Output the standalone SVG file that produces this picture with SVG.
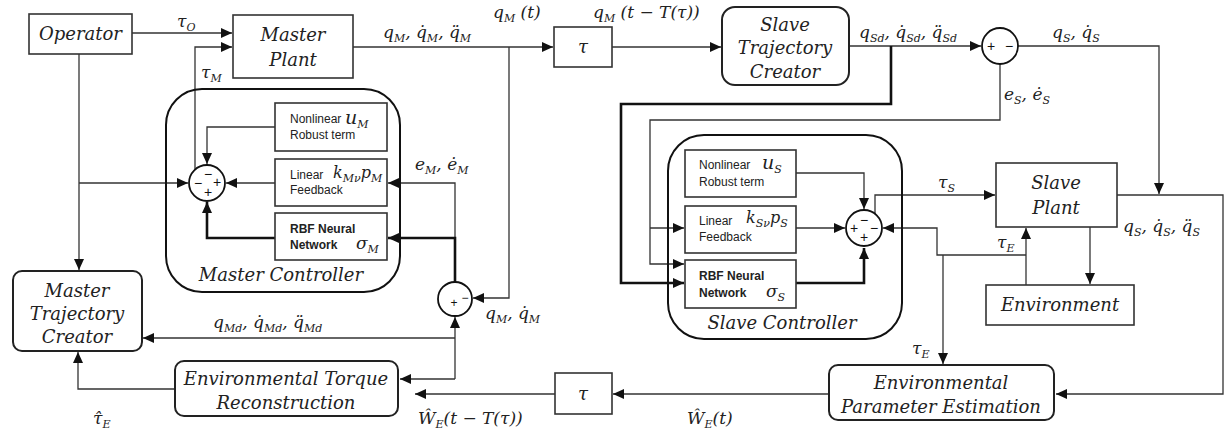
<svg xmlns="http://www.w3.org/2000/svg" width="1225" height="436" viewBox="0 0 1225 436">
<defs>
<marker id="a" markerUnits="userSpaceOnUse" markerWidth="11" markerHeight="10" refX="11" refY="5" orient="auto"><path d="M0,0 L11,5 L0,10 z" fill="#111"/></marker>
</defs>
<style>
.bx{fill:#fff;stroke:#333;stroke-width:1.6}
.ctl{fill:none;stroke:#111;stroke-width:2}
.rb{fill:#fff;stroke:#222;stroke-width:2}
.c{fill:none;stroke:#333;stroke-width:1.3}
.th{fill:none;stroke:#111;stroke-width:2.6}
.circ{fill:#fff;stroke:#111;stroke-width:1.8}
text{fill:#222}
.t{font-family:"DejaVu Serif","Liberation Serif",serif;font-style:italic;font-size:18px;text-anchor:middle}
.m{font-family:"DejaVu Serif","Liberation Serif",serif;font-style:italic;font-size:17px}
.s{font-size:11px}
.sf{font-family:"Liberation Sans",Arial,sans-serif;font-size:12px}
.b{font-weight:bold}
.sg{font-family:"Liberation Sans",Arial,sans-serif;font-size:14px;text-anchor:middle;fill:#111}
</style>
<g id="connectors">
<path class="c" d="M132,33 H232" marker-end="url(#a)"/>
<path class="c" d="M195,170 V47 H232" marker-end="url(#a)"/>
<path class="c" d="M79,54 V270" marker-end="url(#a)"/>
<path class="c" d="M79,183 H188" marker-end="url(#a)"/>
<path class="c" d="M275,127 H207 V164" marker-end="url(#a)"/>
<path class="c" d="M275,183 H226" marker-end="url(#a)"/>
<path class="th" d="M275,238 H207 V202" marker-end="url(#a)"/>
<path class="c" d="M455,238 V183 H388" marker-end="url(#a)"/>
<path class="th" d="M455,282 V238 H388" marker-end="url(#a)"/>
<path class="c" d="M353,47 H553" marker-end="url(#a)"/>
<path class="c" d="M612,47 H721" marker-end="url(#a)"/>
<path class="c" d="M509,47 V298 H473" marker-end="url(#a)"/>
<path class="c" d="M455,338 H143" marker-end="url(#a)"/>
<path class="c" d="M455,379 V317" marker-end="url(#a)"/>
<path class="c" d="M455,379 H400" marker-end="url(#a)"/>
<path class="c" d="M555,394 H415" marker-end="url(#a)"/>
<path class="c" d="M829,394 H613" marker-end="url(#a)"/>
<path class="c" d="M1117,195 H1223 V394 H1056" marker-end="url(#a)"/>
<path class="c" d="M849,46 H981" marker-end="url(#a)"/>
<path class="th" d="M891,46 V104 H621 V283 H684" marker-end="url(#a)"/>
<path class="c" d="M1000,64 V120 H650 V264 H684" marker-end="url(#a)"/>
<path class="c" d="M650,228 H684" marker-end="url(#a)"/>
<path class="c" d="M1018,46 H1159 V194" marker-end="url(#a)"/>
<path class="c" d="M796,173 H864 V209" marker-end="url(#a)"/>
<path class="c" d="M796,228 H845" marker-end="url(#a)"/>
<path class="th" d="M796,283 H864 V248" marker-end="url(#a)"/>
<path class="c" d="M875,214 V195 H995" marker-end="url(#a)"/>
<path class="c" d="M1026,285 V228" marker-end="url(#a)"/>
<path class="c" d="M1026,255 H937 V228 H883" marker-end="url(#a)"/>
<path class="c" d="M943,255 V364" marker-end="url(#a)"/>
<path class="c" d="M1090,227 V284" marker-end="url(#a)"/>
<path class="c" d="M175,389 H78 V352" marker-end="url(#a)"/>
</g>
<g id="operator"><rect class="bx" x="29" y="14" width="103" height="40"/><text class="t" x="80.5" y="40">Operator</text></g>
<g id="master-plant"><rect class="bx" x="233" y="15" width="120" height="63"/><text class="t" x="293" y="41">Master</text><text class="t" x="293" y="66">Plant</text></g>
<g id="master-controller"><rect class="ctl" x="166" y="89" width="234" height="203" rx="36"/><text class="t" x="281" y="281">Master Controller</text></g>
<g id="m-nonlinear"><rect class="bx" x="275" y="103" width="112" height="48"/><text class="sf" x="290" y="123">Nonlinear</text><text class="m" x="345" y="124" style="font-size:19px">u<tspan class="s" dy="4">M</tspan></text><text class="sf" x="290" y="139">Robust term</text></g>
<g id="m-linear"><rect class="bx" x="275" y="159" width="112" height="47"/><text class="sf" x="290" y="179">Linear</text><text class="m" x="333" y="178" style="font-size:16px">k<tspan class="s" dy="4">Mν</tspan><tspan dy="-4">p</tspan><tspan class="s" dy="4">M</tspan></text><text class="sf" x="290" y="194">Feedback</text></g>
<g id="m-rbf"><rect class="bx" x="275" y="213" width="112" height="47"/><text class="sf b" x="290" y="233">RBF Neural</text><text class="sf b" x="290" y="249">Network</text><text class="m" x="356" y="249">σ<tspan class="s" dy="4">M</tspan></text></g>
<g id="m-sum"><circle class="circ" cx="207" cy="183" r="18"/><text class="sg" x="208" y="179">−</text><text class="sg" x="198" y="188">−</text><text class="sg" x="217" y="187">+</text><text class="sg" x="208" y="197">+</text></g>
<g id="delay-top"><rect class="bx" x="554" y="27" width="58" height="40"/><text class="t" x="583" y="53">τ</text></g>
<g id="slave-traj"><rect class="rb" x="722" y="7" width="127" height="78" rx="13"/><text class="t" x="785" y="31">Slave</text><text class="t" x="785" y="54">Trajectory</text><text class="t" x="785" y="78">Creator</text></g>
<g id="s-err"><circle class="circ" cx="1000" cy="46" r="18"/><text class="sg" x="991" y="51">+</text><text class="sg" x="1009" y="51">−</text></g>
<g id="slave-controller"><rect class="ctl" x="668" y="135" width="234" height="204" rx="36"/><text class="t" x="782" y="329">Slave Controller</text></g>
<g id="s-nonlinear"><rect class="bx" x="685" y="150" width="111" height="47"/><text class="sf" x="699" y="169">Nonlinear</text><text class="m" x="762" y="169" style="font-size:19px">u<tspan class="s" dy="4">S</tspan></text><text class="sf" x="699" y="186">Robust term</text></g>
<g id="s-linear"><rect class="bx" x="685" y="206" width="111" height="47"/><text class="sf" x="699" y="225">Linear</text><text class="m" x="746" y="223" style="font-size:16px">k<tspan class="s" dy="4">Sν</tspan><tspan dy="-4">p</tspan><tspan class="s" dy="4">S</tspan></text><text class="sf" x="699" y="241">Feedback</text></g>
<g id="s-rbf"><rect class="bx" x="685" y="260" width="111" height="48"/><text class="sf b" x="699" y="280">RBF Neural</text><text class="sf b" x="699" y="297">Network</text><text class="m" x="766" y="297">σ<tspan class="s" dy="4">S</tspan></text></g>
<g id="s-sum"><circle class="circ" cx="864" cy="228" r="18"/><text class="sg" x="864" y="225">−</text><text class="sg" x="854" y="233">+</text><text class="sg" x="864" y="242">+</text><text class="sg" x="874" y="233">−</text></g>
<g id="slave-plant"><rect class="bx" x="996" y="163" width="121" height="64"/><text class="t" x="1056" y="189">Slave</text><text class="t" x="1056" y="214">Plant</text></g>
<g id="environment"><rect class="bx" x="986" y="285" width="148" height="40"/><text class="t" x="1060" y="311">Environment</text></g>
<g id="m-err"><circle class="circ" cx="455" cy="299" r="17"/><text class="sg" x="454" y="307" style="font-size:12px">+</text><text class="sg" x="465" y="302" style="font-size:12px">−</text></g>
<g id="master-traj"><rect class="rb" x="13" y="271" width="129" height="80" rx="9"/><text class="t" x="77" y="297">Master</text><text class="t" x="77" y="320">Trajectory</text><text class="t" x="77" y="343">Creator</text></g>
<g id="etr"><rect class="rb" x="175" y="361" width="223" height="55" rx="9"/><text class="t" x="286" y="385">Environmental Torque</text><text class="t" x="286" y="409">Reconstruction</text></g>
<g id="delay-bottom"><rect class="bx" x="555" y="373" width="57" height="41"/><text class="t" x="583" y="400">τ</text></g>
<g id="epe"><rect class="rb" x="829" y="365" width="225" height="55" rx="9"/><text class="t" x="941" y="389">Environmental</text><text class="t" x="941" y="413">Parameter Estimation</text></g>
<g id="labels">
<text class="m" x="177" y="27">τ<tspan class="s" dy="4">O</tspan></text>
<text class="m" x="201" y="78">τ<tspan class="s" dy="4">M</tspan></text>
<text class="m" x="383" y="38">q<tspan class="s" dy="4">M</tspan><tspan dy="-4">, q̇</tspan><tspan class="s" dy="4">M</tspan><tspan dy="-4">, q̈</tspan><tspan class="s" dy="4">M</tspan></text>
<text class="m" x="493" y="18">q<tspan class="s" dy="4">M</tspan><tspan dy="-4"> (t)</tspan></text>
<text class="m" x="593" y="18">q<tspan class="s" dy="4">M</tspan><tspan dy="-4"> (t − T(τ))</tspan></text>
<text class="m" x="415" y="170">e<tspan class="s" dy="4">M</tspan><tspan dy="-4">, ė</tspan><tspan class="s" dy="4">M</tspan></text>
<text class="m" x="485" y="319">q<tspan class="s" dy="4">M</tspan><tspan dy="-4">, q̇</tspan><tspan class="s" dy="4">M</tspan></text>
<text class="m" x="213" y="328">q<tspan class="s" dy="4">Md</tspan><tspan dy="-4">, q̇</tspan><tspan class="s" dy="4">Md</tspan><tspan dy="-4">, q̈</tspan><tspan class="s" dy="4">Md</tspan></text>
<text class="m" x="93" y="424">τ̂<tspan class="s" dy="4">E</tspan></text>
<text class="m" x="418" y="424">Ŵ<tspan class="s" dy="4">E</tspan><tspan dy="-4">(t − T(τ))</tspan></text>
<text class="m" x="687" y="424">Ŵ<tspan class="s" dy="4">E</tspan><tspan dy="-4">(t)</tspan></text>
<text class="m" x="859" y="38">q<tspan class="s" dy="4">Sd</tspan><tspan dy="-4">, q̇</tspan><tspan class="s" dy="4">Sd</tspan><tspan dy="-4">, q̈</tspan><tspan class="s" dy="4">Sd</tspan></text>
<text class="m" x="1052" y="38">q<tspan class="s" dy="4">S</tspan><tspan dy="-4">, q̇</tspan><tspan class="s" dy="4">S</tspan></text>
<text class="m" x="1004" y="100">e<tspan class="s" dy="4">S</tspan><tspan dy="-4">, ė</tspan><tspan class="s" dy="4">S</tspan></text>
<text class="m" x="938" y="188">τ<tspan class="s" dy="4">S</tspan></text>
<text class="m" x="1123" y="232">q<tspan class="s" dy="4">S</tspan><tspan dy="-4">, q̇</tspan><tspan class="s" dy="4">S</tspan><tspan dy="-4">, q̈</tspan><tspan class="s" dy="4">S</tspan></text>
<text class="m" x="997" y="248">τ<tspan class="s" dy="4">E</tspan></text>
<text class="m" x="912" y="354">τ<tspan class="s" dy="4">E</tspan></text>
</g>
</svg>
